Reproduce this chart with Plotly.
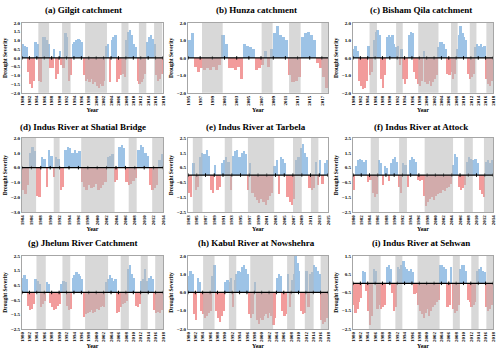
import plotly.graph_objects as go

BLUE = "#9dc3e6"
RED = "#f29b9b"
FONT = "Liberation Serif"

# drought severity, two values per year (first half, second half)
gilgit = [0.8, 0.7, 0.6, -0.8, -1.5, -1.7, -1.3, 0.9, 0.8, -1.3,
          -1.4, 1.2, 1.2, 1.0, 0.8, -0.6, -0.6, 0.5, -1.2, -0.9,
          0.4, -0.4, -0.6, 1.4, 1.2, -1.3, -1.0, 0.8, 0.9, 1.0,
          1.1, 1.0, 0.9, -1.0, -1.3, -1.2, -1.4, -1.2, -1.5, -1.4,
          -1.6, -1.7, -1.5, -1.6, -1.3, 0.7, 0.8, -1.4, 1.0, 1.2,
          1.3, -1.4, -1.2, -1.0, -0.9, -1.1, 1.0, 1.5, 1.6, 1.3,
          0.8, 0.6, -1.3, -1.5, -1.4, -1.2, -0.9, 0.9, 1.2, 1.3,
          1.1, 0.8, -1.0, -1.3, -1.2, -0.9]
hunza = [1.0, 1.4, -0.5, -0.8, -0.6, -0.7, -0.6, -0.7, -0.5, -0.7,
         -0.4, 1.3, 0.8, -0.6, -0.6, -0.7, -0.5, -1.2, 0.8, 0.7,
         0.6, 0.5, -0.7, -0.6, -0.4, 0.4, -0.5, 0.5, 1.4, 1.8,
         1.3, 1.2, 1.0, -1.0, -1.4, -1.3, -1.1, 1.2, 1.4, 1.5,
         1.3, 1.0, -0.3, -0.6, -1.1, -1.7]
bisham = [0.5, 0.7, 0.4, -1.3, -1.6, -1.8, -1.7, -1.3, 0.7, -1.0,
          -0.8, 1.0, 1.5, 1.6, 1.3, -1.2, -1.7, -1.0, 1.2, 1.3,
          1.2, 1.3, 0.8, 0.6, 0.7, -0.4, 0.5, -1.2, -1.5, -1.2,
          1.3, 1.5, 1.4, -0.8, -1.2, -1.5, -1.6, -1.3, 0.4, -1.4,
          -1.5, -1.3, -1.6, -1.4, -1.2, -1.0, 0.6, 0.9, 0.9, 0.8,
          0.5, -0.9, -1.0, -0.8, -1.2, -0.9, 0.5, 1.3, 1.8, 1.4,
          1.2, 1.0, -0.9, -1.2, -1.1, -0.9, 0.6, 0.8, 0.7, 0.8,
          0.6, 0.7, -1.2, -1.5, -1.6, -1.3]
shatial = [-1.5, -1.8, -1.2, 1.0, 1.4, 1.1, -1.9, -2.0, 0.7, 0.6,
           -1.3, 1.2, 0.8, -0.6, 0.7, 0.6, -1.5, -1.3, 1.2, 1.4,
           1.3, 1.0, 1.2, 1.0, 1.1, -1.0, -1.3, -1.5, -1.2, -1.4,
           -1.3, -1.1, -1.5, -1.4, -1.2, -1.0, 0.7, 0.8, 0.9, -1.0,
           -0.8, 1.4, 1.5, 1.3, -1.0, -1.2, -1.1, -0.9, -0.7, 1.2,
           1.5, 1.4, 1.0, 0.8, -1.2, -1.5, -1.4, -1.2, 0.5, 0.9]
tarbela = [-1.2, -1.5, 0.8, -1.0, -0.8, 1.2, 1.5, 1.4, 1.7, 1.3,
           -1.0, -1.2, 0.7, -1.0, -0.8, 0.8, 1.0, 1.2, 0.9, -1.0,
           1.3, 1.6, 1.7, 1.2, 1.5, 1.6, 1.4, -1.0, 0.8, -1.2,
           -1.5, -1.7, -1.9, -1.6, -1.8, -2.0, -1.7, -1.4, -1.2, 0.6,
           1.0, -1.3, 1.2, 1.1, 0.8, -1.5, -1.8, -2.0, -1.6, 1.0,
           1.2, 1.8, 2.1, 1.5, 1.2, -0.9, -1.0, -0.9, 0.9, -0.7,
           1.0, -0.6, 0.8, 1.0]
attock = [-1.0, 0.6, 1.0, 1.1, 1.0, 0.9, 1.0, -0.5, -0.3, -1.2,
          -1.5, -1.3, 1.0, 0.8, -0.7, 0.6, 0.5, -0.4, 0.8, 1.1,
          1.2, 0.9, -0.8, -1.2, 0.8, 0.7, -0.8, 1.0, 1.2, 1.1,
          0.9, -0.3, -0.4, -0.3, -1.4, -2.1, -1.8, -1.6, -1.5, -1.7,
          -1.4, -1.3, -1.2, -1.0, -1.1, -0.9, -0.8, -0.6, 0.7, 1.4,
          1.2, -0.8, -1.0, -0.9, -0.7, 0.9, 1.2, 1.1, 1.0, 1.1,
          0.8, -1.0, -1.3, -1.5, 0.9, 1.0, 0.8, 1.0]
jhelum = [1.0, 1.2, 0.9, -0.9, -1.2, -1.1, -0.8, 0.9, 0.8, 0.6,
          -1.0, -0.8, -0.6, 0.7, 0.6, -0.7, -1.0, -1.2, -1.1, -0.9,
          -0.8, 0.6, 0.8, 0.7, -0.9, -1.2, -1.1, 1.0, 1.2, 1.4,
          1.3, 1.1, 0.9, -1.7, -1.5, -1.4, -1.3, -1.2, -1.4, -1.3,
          -1.1, -1.2, -1.0, -0.9, -1.0, 0.7, 0.9, 1.2, 1.0, 0.8,
          0.9, -1.4, -1.3, -1.0, -0.8, -0.7, -0.6, 1.6, 1.9, 1.3,
          1.0, -0.9, -1.0, -0.8, 0.8, 0.9, 1.6, 0.8, 1.0, 1.1,
          0.9, -1.2, -1.4, -1.3, -1.4, -1.2]
kabul = [0.9, 1.2, 1.0, -1.2, -1.5, 0.8, 0.6, -1.0, -1.2, -1.4,
         -1.3, -1.1, -1.0, 0.9, 1.5, -1.0, -1.4, -1.6, -1.3, -1.0,
         0.6, 0.7, 0.6, 0.8, -0.8, 0.7, 1.0, 1.2, 1.1, 1.4,
         1.5, 1.3, 1.0, -1.2, -1.4, -1.2, 0.6, -1.5, -1.7, -1.4,
         -1.5, -1.3, -1.2, -1.4, -1.1, -1.3, -1.8, -1.4, 0.8, 1.0,
         0.9, -1.0, -1.3, -1.2, 1.0, -0.8, 0.7, 1.0, 2.0, 1.6,
         1.2, -1.0, -1.2, -1.1, 1.2, -0.8, 1.0, 1.1, 1.5, 1.4,
         1.2, 1.0, -1.5, -1.7, -1.6, -1.4]
sehwan = [-1.2, -1.6, -1.4, -1.0, -0.8, 0.7, 0.6, -0.4, -1.5, -2.3,
          -1.8, 0.8, 0.7, -1.4, -1.2, -1.4, -1.3, -1.2, 0.9, 1.0,
          0.8, -0.5, -1.5, -1.3, 0.9, 0.8, 1.0, 1.2, 0.9, 0.8,
          0.7, 0.8, 0.6, -0.6, -0.5, -1.2, -1.5, -1.7, -1.9, -1.6,
          -1.4, -1.8, -1.5, -1.3, -1.2, -1.0, -0.9, 1.0, 1.0, 0.9,
          0.8, -1.3, -1.2, 0.9, -1.4, -1.6, -1.5, -1.2, 0.8, 1.0,
          1.0, 0.7, -0.9, -1.0, -1.3, -1.2, -1.0, 0.7, 0.8, 0.9,
          0.7, 0.6, -1.3, -1.5, -1.4, -1.2]

# shaded drought periods (start, end) in decimal years
gilgit_droughts = [(1984.4, 1987.3), (1990.8, 1993.1), (1997.0, 2002.9),
                   (2006.8, 2008.7), (2011.5, 2013.5), (2015.6, 2017.8)]
hunza_droughts = [(1997.3, 2000.7), (2007.1, 2008.9), (2011.6, 2013.5), (2016.9, 2018.0)]
bisham_droughts = [(1984.5, 1986.5), (1991.7, 1993.5), (1997.7, 2003.2),
                   (2006.6, 2008.4), (2011.7, 2013.5), (2016.2, 2018.0)]
shatial_droughts = [(1984.0, 1987.0), (1990.75, 1992.0), (1996.6, 2003.7),
                    (2006.7, 2008.4), (2011.7, 2014.0)]
tarbela_droughts = [(1984.1, 1986.3), (1991.4, 1993.1), (1996.7, 2002.7),
                    (2007.0, 2009.0), (2011.1, 2012.8)]
attock_droughts = [(1984.3, 1986.3), (1991.2, 1993.1), (1997.4, 2004.3),
                   (2007.0, 2009.1), (2011.8, 2014.0)]
jhelum_droughts = [(1983.9, 1986.4), (1990.9, 1993.0), (1997.0, 2003.2),
                   (2006.6, 2008.8), (2012.0, 2013.9), (2015.9, 2018.0)]
kabul_droughts = [(1984.1, 1987.2), (1991.1, 1993.1), (1996.9, 2003.1),
                  (2006.9, 2009.0), (2011.7, 2014.1), (2016.0, 2018.0)]
sehwan_droughts = [(1984.3, 1987.5), (1991.5, 1993.4), (1997.5, 2003.5),
                   (2007.1, 2009.0), (2012.1, 2014.1), (2016.2, 2018.0)]

panels = [
    dict(title="(a) Gilgit catchment", values=gilgit, start=1980, end=2018,
         yrange=[-2, 2], ytick0=0, ydtick=0.5, droughts=gilgit_droughts),
    dict(title="(b) Hunza catchment", values=hunza, start=1995, end=2018,
         yrange=[-2, 2], ytick0=0, ydtick=1, droughts=hunza_droughts),
    dict(title="(c) Bisham Qila catchment", values=bisham, start=1980, end=2018,
         yrange=[-2, 2], ytick0=0, ydtick=1, droughts=bisham_droughts),
    dict(title="(d) Indus River at Shatial Bridge", values=shatial, start=1984, end=2014,
         yrange=[-3, 2], ytick0=0, ydtick=1, droughts=shatial_droughts),
    dict(title="(e) Indus River at Tarbela", values=tarbela, start=1983, end=2015,
         yrange=[-2.5, 2.5], ytick0=0.5, ydtick=1, droughts=tarbela_droughts),
    dict(title="(f) Indus River at Attock", values=attock, start=1980, end=2014,
         yrange=[-2.5, 2.5], ytick0=0.5, ydtick=1, droughts=attock_droughts),
    dict(title="(g) Jhelum River Catchment", values=jhelum, start=1980, end=2018,
         yrange=[-2.5, 2.5], ytick0=0.5, ydtick=1, droughts=jhelum_droughts),
    dict(title="(h) Kabul River at Nowshehra", values=kabul, start=1980, end=2018,
         yrange=[-2, 2], ytick0=0, ydtick=1, droughts=kabul_droughts),
    dict(title="(i) Indus River at Sehwan", values=sehwan, start=1980, end=2018,
         yrange=[-2.5, 1.5], ytick0=0.5, ydtick=1, droughts=sehwan_droughts),
]

col_x = [(0.044, 0.326), (0.376, 0.656), (0.706, 0.986)]
row_y = [(0.737, 0.935), (0.399, 0.609), (0.068, 0.275)]
title_x = [0.166, 0.512, 0.842]
title_y = [0.972, 0.640, 0.312]

fig = go.Figure()
shapes = []
annotations = []
layout = {}

for i, p in enumerate(panels):
    s = "" if i == 0 else str(i + 1)
    r, c = divmod(i, 3)
    vals = p["values"]
    xs = [p["start"] + 0.25 + 0.5 * k for k in range(len(vals))]
    colors = [BLUE if v >= 0 else RED for v in vals]
    fig.add_trace(go.Bar(
        x=xs, y=vals, width=0.5, marker=dict(color=colors, line=dict(width=0)),
        xaxis="x" + s, yaxis="y" + s, showlegend=False, hoverinfo="x+y"))

    ticks = list(range(p["start"], p["end"] + 1, 2))
    fig.add_trace(go.Scatter(
        x=ticks, y=[0] * len(ticks), mode="markers",
        marker=dict(symbol="line-ns", size=2.5, line=dict(width=1, color="black")),
        xaxis="x" + s, yaxis="y" + s, showlegend=False, hoverinfo="skip"))

    for d0, d1 in p["droughts"]:
        shapes.append(dict(type="rect", xref="x" + s, yref="y" + s + " domain",
                           x0=d0, x1=d1, y0=0, y1=1, fillcolor="rgb(184,184,184)",
                           opacity=0.55, line=dict(width=0), layer="above"))
    shapes.append(dict(type="line", xref="x" + s + " domain", yref="y" + s,
                       x0=0, x1=1, y0=0, y1=0, line=dict(color="black", width=1.2),
                       layer="above"))

    annotations.append(dict(text="<b>%s</b>" % p["title"], xref="paper", yref="paper",
                            x=title_x[c], y=title_y[r], xanchor="center", yanchor="middle",
                            showarrow=False,
                            font=dict(family=FONT, size=9, color="black")))

    layout["xaxis" + s] = dict(
        domain=col_x[c], anchor="y" + s, range=[p["start"], p["end"]],
        tickmode="array", tickvals=ticks, ticktext=[str(t) for t in ticks],
        tickangle=-90, tickfont=dict(family=FONT, size=5, color="black", weight="bold"),
        showgrid=False, zeroline=False, showline=True, linecolor="#a6a6a6",
        linewidth=1, mirror=True, ticks="", automargin=False,
        title=dict(text="<b>Year</b>", font=dict(family=FONT, size=6, color="black"),
                   standoff=2))
    layout["yaxis" + s] = dict(
        domain=row_y[r], anchor="x" + s, range=p["yrange"],
        tick0=p["ytick0"], dtick=p["ydtick"], tickformat=".1f",
        tickfont=dict(family=FONT, size=5, color="black", weight="bold"),
        showgrid=False, zeroline=False, showline=True, linecolor="#a6a6a6",
        linewidth=1, mirror=True, ticks="", automargin=False,
        title=dict(text="<b>Drought Severity</b>",
                   font=dict(family=FONT, size=5.5, color="black"), standoff=2))

fig.update_layout(
    width=500, height=353,
    margin=dict(l=0, r=0, t=0, b=0),
    paper_bgcolor="white", plot_bgcolor="white",
    bargap=0, shapes=shapes, annotations=annotations,
    **layout
)

# the page's default body margin would push the 500x353 figure out of the window
fig.write_html("out.html", config={"displayModeBar": False},
               post_script="document.body.style.margin = '0';")
